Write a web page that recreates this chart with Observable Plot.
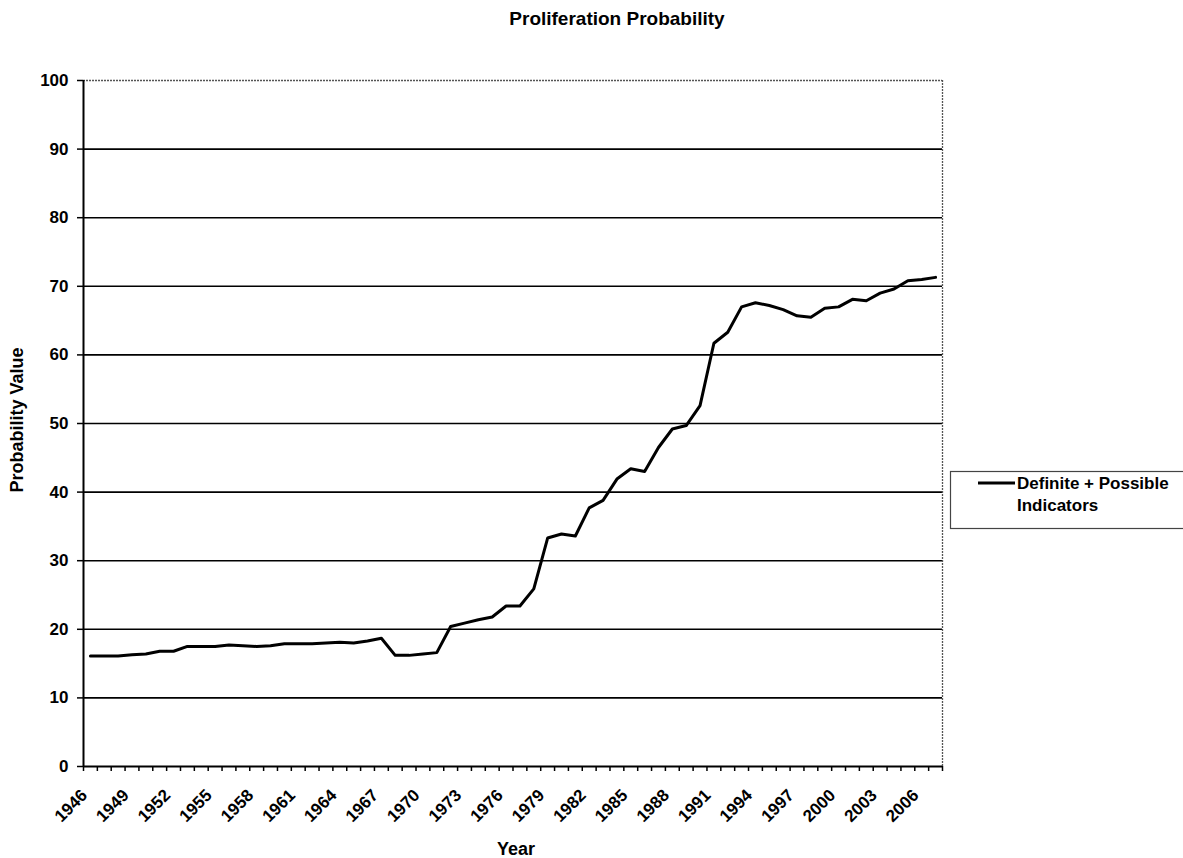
<!DOCTYPE html>
<html>
<head>
<meta charset="utf-8">
<script src="https://cdn.jsdelivr.net/npm/d3@7"></script>
<script src="https://cdn.jsdelivr.net/npm/@observablehq/plot@0.6"></script>
<style>
  body { margin: 0; background: #fff; }
  #wrap { position: relative; width: 1183px; height: 858px; }
</style>
</head>
<body>
<div id="wrap"></div>
<script>
const years = [1946,1947,1948,1949,1950,1951,1952,1953,1954,1955,1956,1957,1958,1959,1960,1961,1962,1963,1964,1965,1966,1967,1968,1969,1970,1971,1972,1973,1974,1975,1976,1977,1978,1979,1980,1981,1982,1983,1984,1985,1986,1987,1988,1989,1990,1991,1992,1993,1994,1995,1996,1997,1998,1999,2000,2001,2002,2003,2004,2005,2006,2007];
const values = [16.1,16.1,16.1,16.3,16.4,16.8,16.8,17.5,17.5,17.5,17.7,17.6,17.5,17.6,17.9,17.9,17.9,18.0,18.1,18.0,18.3,18.7,16.2,16.2,16.4,16.6,20.4,20.9,21.4,21.8,23.4,23.4,25.9,33.3,33.9,33.6,37.7,38.8,41.9,43.4,43.0,46.5,49.2,49.7,52.6,61.7,63.3,67.0,67.6,67.2,66.6,65.7,65.5,66.8,67.0,68.1,67.9,69.0,69.6,70.8,71.0,71.3];
const yTicks = [0,10,20,30,40,50,60,70,80,90,100];
const xTickLabels = [1946,1949,1952,1955,1958,1961,1964,1967,1970,1973,1976,1979,1982,1985,1988,1991,1994,1997,2000,2003,2006];
const titleText = "Proliferation Probability";
const xTitle = "Year";
const yTitle = "Probability Value";
const seriesName = ["Definite + Possible", "Indicators"];

const FONT = '"Liberation Sans", Arial, Helvetica, sans-serif';
const data = years.map((y, i) => ({year: y, value: values[i]}));
const boundaries = years.map(y => y - 0.5).concat([years[years.length - 1] + 0.5]);
const xDomain = [boundaries[0], boundaries[boundaries.length - 1]];

const chart = Plot.plot({
  width: 1183,
  height: 858,
  marginLeft: 83,
  marginRight: 241,
  marginTop: 80,
  marginBottom: 92,
  style: {fontFamily: FONT, fontSize: "17px", fontWeight: "bold", color: "#000", background: "#fff", overflow: "visible"},
  x: {type: "linear", domain: xDomain},
  y: {domain: [yTicks[0], yTicks[yTicks.length - 1]]},
  marks: [
    Plot.ruleY(yTicks.slice(1, -1), {stroke: "#000", strokeWidth: 1.6}),
    Plot.ruleY(yTicks.slice(-1), {stroke: "#555", strokeWidth: 1.3, strokeDasharray: "2,1"}),
    Plot.ruleX(xDomain.slice(1), {stroke: "#555", strokeWidth: 1.3, strokeDasharray: "2,1"}),
    Plot.ruleX(xDomain.slice(0, 1), {stroke: "#000", strokeWidth: 2}),
    Plot.ruleY(yTicks.slice(0, 1), {stroke: "#000", strokeWidth: 2}),
    Plot.axisY({ticks: yTicks, tickSize: 6, tickPadding: 9, tickFormat: d => String(d), label: null, strokeWidth: 1.5, fontSize: 17, fontWeight: "bold"}),
    Plot.axisX({ticks: boundaries, tickSize: 5, tickFormat: () => "", label: null, strokeWidth: 1.5}),
    Plot.axisX({ticks: xTickLabels, tickSize: 0, tickPadding: 26, dx: -6, tickRotate: -45, tickFormat: d => String(d), label: null, fontSize: 17, fontWeight: "bold"}),
    Plot.line(data, {x: "year", y: "value", stroke: "#000", strokeWidth: 3})
  ]
});

const svg = d3.select(chart);
const txt = (x, y, s, opts = {}) => svg.append("text")
  .attr("x", x).attr("y", y)
  .attr("font-family", FONT)
  .attr("font-weight", "bold")
  .attr("font-size", opts.size || 17)
  .attr("text-anchor", opts.anchor || "start")
  .attr("fill", "#000")
  .attr("transform", opts.transform || null)
  .text(s);

txt(617, 25, titleText, {size: 19, anchor: "middle"});
txt(516, 855, xTitle, {size: 18, anchor: "middle"});
txt(0, 0, yTitle, {size: 18, anchor: "middle", transform: "translate(23,420) rotate(-90)"});

// legend
svg.append("rect").attr("x", 950.5).attr("y", 471.5).attr("width", 240).attr("height", 57)
  .attr("fill", "#fff").attr("stroke", "#444").attr("stroke-width", 1.2);
svg.append("line").attr("x1", 978).attr("x2", 1015).attr("y1", 483).attr("y2", 483)
  .attr("stroke", "#000").attr("stroke-width", 3);
txt(1017, 488.5, seriesName[0], {size: 17});
txt(1017, 511, seriesName[1], {size: 17});

document.getElementById("wrap").appendChild(chart);
</script>
</body>
</html>
